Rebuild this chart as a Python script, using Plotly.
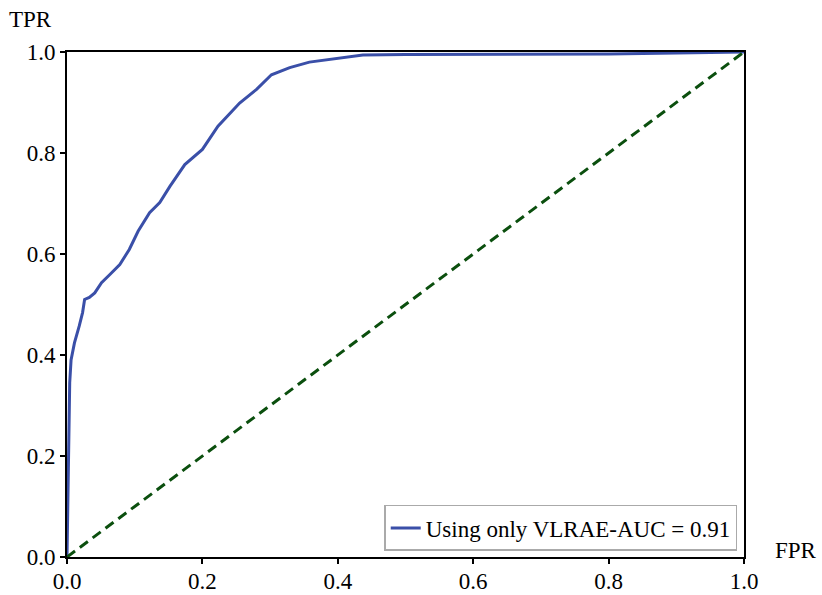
import plotly.graph_objects as go

fpr = [0.0, 0.001, 0.002, 0.004, 0.006, 0.011, 0.018, 0.023, 0.026, 0.033, 0.041,
       0.051, 0.063, 0.078, 0.092, 0.105, 0.122, 0.137, 0.152, 0.174, 0.200,
       0.223, 0.255, 0.280, 0.302, 0.329, 0.358, 0.393, 0.437, 0.50, 0.60,
       0.70, 0.80, 0.90, 0.95, 1.0]
tpr = [0.0, 0.10, 0.25, 0.345, 0.39, 0.424, 0.457, 0.484, 0.51, 0.514, 0.523,
       0.543, 0.559, 0.579, 0.609, 0.645, 0.682, 0.702, 0.734, 0.777, 0.807,
       0.853, 0.899, 0.926, 0.955, 0.969, 0.980, 0.986, 0.994, 0.995, 0.995,
       0.995, 0.996, 0.998, 0.999, 1.0]
diag = [0.0, 1.0]
tick_vals = [0.0, 0.2, 0.4, 0.6, 0.8, 1.0]
tick_text = ["0.0", "0.2", "0.4", "0.6", "0.8", "1.0"]
legend_label = "Using only VLRAE-AUC = 0.91"

FONT = "Liberation Serif"

fig = go.Figure()
fig.add_trace(go.Scatter(x=fpr, y=tpr, mode="lines", name=legend_label,
                         line=dict(color="#3a4fa8", width=3)))
fig.add_trace(go.Scatter(x=diag, y=diag, mode="lines", showlegend=False,
                         line=dict(color="#0b4f0e", width=3, dash="10px,6px")))

axis_common = dict(range=[0, 1], tickvals=tick_vals, ticktext=tick_text,
                   showgrid=False, zeroline=False, showline=True, linecolor="black",
                   linewidth=2, mirror=True, ticks="outside", ticklen=5,
                   tickwidth=1.5, tickcolor="black", automargin=False,
                   tickfont=dict(family=FONT, size=23, color="black"))

fig.update_layout(
    width=822, height=595,
    margin=dict(l=67, r=78, t=52, b=38, autoexpand=False),
    paper_bgcolor="white", plot_bgcolor="white",
    xaxis=dict(**axis_common, ticklabelstandoff=-3),
    yaxis=dict(**axis_common),
    legend=dict(x=0.99, y=0.012, xanchor="right", yanchor="bottom",
                bordercolor="#aaaaaa", borderwidth=1.5, bgcolor="white",
                font=dict(family=FONT, size=23, color="black"),
                tracegroupgap=0, itemwidth=30),
    annotations=[
        dict(text="TPR", xref="paper", yref="paper", x=-0.088, y=1.094,
             xanchor="left", yanchor="top", showarrow=False,
             font=dict(family=FONT, size=23, color="black")),
        dict(text="FPR", xref="paper", yref="paper", x=1.043, y=0.013,
             xanchor="left", yanchor="middle", showarrow=False,
             font=dict(family=FONT, size=23, color="black")),
    ],
)

fig.write_html("out.html", config={"displayModeBar": False},
               post_script="document.body.style.margin='0px';")
